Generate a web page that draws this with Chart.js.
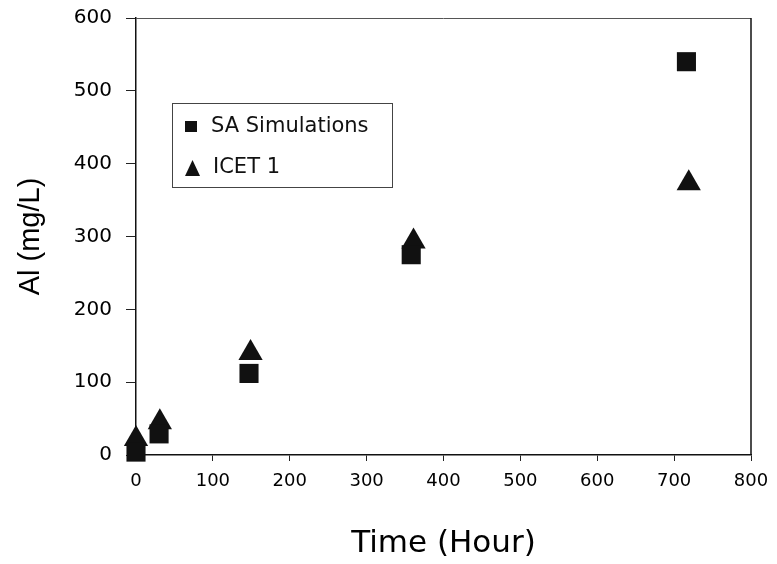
<!DOCTYPE html>
<html>
<head>
<meta charset="utf-8">
<title>Al vs Time</title>
<script src="https://cdn.jsdelivr.net/npm/chart.js@4.4.1/dist/chart.umd.min.js"></script>
<style>
    html, body { margin: 0; padding: 0; background: #fff; }
    #wrap { width: 777px; height: 564px; position: relative; }
</style>
</head>
<body>
<div id="wrap"><canvas id="alChart" width="777" height="564"></canvas></div>
<script>
// data
const saTime = [0, 30, 147, 358, 716];
const saAl = [4, 29, 112, 275, 540];
const icetTime = [0, 31, 149, 361, 719];
const icetAl = [22, 45, 140, 293, 373];
const seriesNames = ['SA Simulations', 'ICET 1'];
const xTicks = [0, 100, 200, 300, 400, 500, 600, 700, 800];
const yTicks = [0, 100, 200, 300, 400, 500, 600];

// the source text is a bit wide, DejaVu is closer than Arial for it
const WIDE = "'DejaVu Sans', Verdana, sans-serif";
const FONT = "'Liberation Sans', Arial, sans-serif";

function toPoints(xs, ys) {
    return xs.map((x, i) => ({ x: x, y: ys[i] }));
}

// box round the plot area
const frame = {
    id: 'frame',
    beforeDatasetsDraw(chart) {
        const { ctx, chartArea: a } = chart;
        ctx.save();
        ctx.strokeStyle = '#555';
        ctx.lineWidth = 1;
        ctx.beginPath();
        ctx.moveTo(a.left, a.top + 0.5);
        ctx.lineTo(a.right, a.top + 0.5);
        ctx.stroke();
        ctx.strokeStyle = '#111';
        ctx.lineWidth = 1.5;
        ctx.beginPath();
        ctx.moveTo(a.right, a.top);
        ctx.lineTo(a.right, a.bottom);
        ctx.stroke();
        ctx.restore();
    }
};

// legend box inside the plot
const insideLegend = {
    id: 'insideLegend',
    afterDraw(chart) {
        const ctx = chart.ctx;
        const a = chart.chartArea;
        const bx = a.left + 36, by = a.top + 85, bw = 220, bh = 84;
        ctx.save();
        ctx.fillStyle = '#fff';
        ctx.fillRect(bx, by, bw, bh);
        ctx.strokeStyle = '#444';
        ctx.lineWidth = 1;
        ctx.strokeRect(bx + 0.5, by + 0.5, bw, bh);

        ctx.fillStyle = '#111';
        // square
        ctx.fillRect(bx + 13, by + 18, 12, 11);
        // triangle
        ctx.beginPath();
        ctx.moveTo(bx + 20.5, by + 57);
        ctx.lineTo(bx + 28, by + 73);
        ctx.lineTo(bx + 13, by + 73);
        ctx.closePath();
        ctx.fill();

        ctx.font = '21px ' + WIDE;
        ctx.textBaseline = 'middle';
        ctx.textAlign = 'left';
        ctx.fillText(chart.data.datasets[0].label, bx + 39, by + 24);
        ctx.fillText(chart.data.datasets[1].label, bx + 41, by + 65);
        ctx.restore();
    }
};

const ctx = document.getElementById('alChart').getContext('2d');
new Chart(ctx, {
    type: 'scatter',
    data: {
        datasets: [
            {
                label: seriesNames[0],
                data: toPoints(saTime, saAl),
                pointStyle: 'rect',
                pointRadius: 13.5,
                pointHoverRadius: 13.5,
                backgroundColor: '#111',
                borderColor: '#111',
                borderWidth: 0,
                clip: false
            },
            {
                label: seriesNames[1],
                data: toPoints(icetTime, icetAl),
                pointStyle: 'triangle',
                pointRadius: 14,
                pointHoverRadius: 14,
                backgroundColor: '#111',
                borderColor: '#111',
                borderWidth: 0,
                clip: false
            }
        ]
    },
    options: {
        responsive: false,
        animation: false,
        layout: {
            padding: { top: 18, right: 26, bottom: 0, left: 16 }
        },
        plugins: {
            legend: { display: false },
            tooltip: { enabled: false }
        },
        scales: {
            x: {
                type: 'linear',
                min: 0,
                max: 800,
                afterBuildTicks: (scale) => { scale.ticks = xTicks.map(v => ({ value: v })); },
                afterFit: (scale) => {
                    scale.height = 109;
                    scale.paddingLeft = 0;
                    scale.paddingRight = 0;
                },
                grid: {
                    display: true,
                    drawOnChartArea: false,
                    drawTicks: true,
                    tickLength: 6,
                    color: '#222'
                },
                border: { display: true, color: '#111', width: 1.5 },
                ticks: {
                    color: '#000',
                    padding: 10,
                    maxRotation: 0,
                    font: { family: WIDE, size: 18 }
                },
                title: {
                    display: true,
                    text: 'Time (Hour)',
                    color: '#000',
                    font: { family: WIDE, size: 31, lineHeight: 1 },
                    padding: { top: 0, bottom: 5 }
                }
            },
            y: {
                type: 'linear',
                min: 0,
                max: 600,
                afterBuildTicks: (scale) => { scale.ticks = yTicks.map(v => ({ value: v })); },
                afterFit: (scale) => {
                    scale.width = 120;
                    scale.paddingTop = 0;
                    scale.paddingBottom = 0;
                },
                grid: {
                    display: true,
                    drawOnChartArea: false,
                    drawTicks: true,
                    tickLength: 10,
                    color: '#222'
                },
                border: { display: true, color: '#111', width: 1.5 },
                ticks: {
                    color: '#000',
                    padding: 14,
                    font: { family: WIDE, size: 20 }
                },
                title: {
                    display: true,
                    text: 'Al (mg/L)',
                    color: '#000',
                    font: { family: FONT, size: 29, lineHeight: 1 },
                    padding: { top: 0, bottom: 0 }
                }
            }
        }
    },
    plugins: [frame, insideLegend]
});
</script>
</body>
</html>
